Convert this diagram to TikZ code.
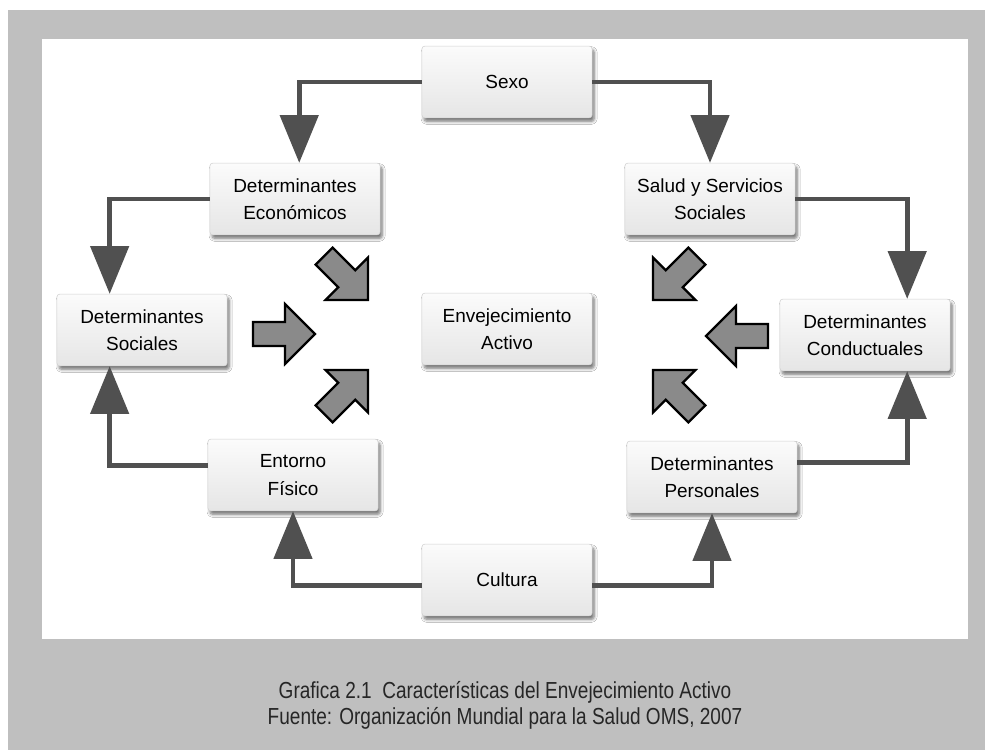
\documentclass[tikz,border=0pt]{standalone}
\usepackage{fontspec}
\setmainfont{Liberation Sans}
\newfontfamily\capfont[FakeStretch=0.82]{Liberation Sans}
\usetikzlibrary{arrows.meta,shadows.blur}
\definecolor{framegray}{HTML}{BFBFBF}
\definecolor{linkgray}{HTML}{505050}
\definecolor{arrgray}{HTML}{8A8A8A}
\tikzset{
  factor/.style={draw=gray!35, rounded corners=2pt, top color=gray!3, bottom color=gray!20,
    minimum width=121pt, minimum height=51pt, align=center, inner sep=2pt,
    font=\fontsize{13.5}{19.5}\selectfont,
    blur shadow={shadow xshift=1.5pt, shadow yshift=-2.5pt, shadow blur steps=6, shadow opacity=55}},
  link/.style={draw=linkgray, line width=3.5pt, -{Triangle[length=34pt,width=27pt]}},
  blockarr/.pic={
    \draw[fill=arrgray, line width=1.6pt, line join=miter]
      (0,0) -- (-30,30) -- (-30,12) -- (-62,12) -- (-62,-12) -- (-30,-12) -- (-30,-30) -- cycle;
  }
}
\begin{document}
\begin{tikzpicture}[x=0.025cm, y=-0.025cm]
  \useasboundingbox (0,0) rectangle (985,750);
  \fill[white] (0,0) rectangle (985,750);
  \fill[framegray] (8,10) rectangle (985,750);
  \fill[white] (42,39) rectangle (968,639);
  % factors
  \node[factor] (sexo) at (507,82) {Sexo};
  \node[factor] (economicos) at (295,199) {Determinantes\\Económicos};
  \node[factor] (salud) at (710,199) {Salud y Servicios\\Sociales};
  \node[factor] (sociales) at (142,330) {Determinantes\\Sociales};
  \node[factor] (activo) at (507,329) {Envejecimiento\\Activo};
  \node[factor] (conductuales) at (865,335) {Determinantes\\Conductuales};
  \node[factor] (entorno) at (293,475) {Entorno\\Físico};
  \node[factor] (personales) at (712,477) {Determinantes\\Personales};
  \node[factor] (cultura) at (507,580) {Cultura};
  \begin{scope}
    \draw[link] (sexo.west) -| ([xshift=3pt]economicos.north);
    \draw[link] (sexo.east) -| (salud.north);
    \draw[link] (economicos.west) -| ([xshift=-23pt]sociales.north);
    \draw[link] (salud.east) -| ([xshift=30pt]conductuales.north);
    \draw[link] ([yshift=7pt]entorno.west) -| ([xshift=-23pt]sociales.south);
    \draw[link] ([yshift=10pt]personales.east) -| ([xshift=30pt]conductuales.south);
    \draw[link] ([yshift=-4pt]cultura.west) -| (entorno.south);
    \draw[link] ([yshift=-4pt]cultura.east) -| (personales.south);
  \end{scope}
  % block arrows into the centre
  \pic[rotate=-45] at (368,300) {blockarr};
  \pic at (315,334) {blockarr};
  \pic[rotate=45] at (368,370) {blockarr};
  \pic[rotate=-135] at (653,300) {blockarr};
  \pic[rotate=180] at (706,336) {blockarr};
  \pic[rotate=135] at (653,370) {blockarr};
  % caption
  \node[font=\capfont\fontsize{16.5}{18.5}\selectfont, text=black!85, align=center] (caption) at (505,705)
    {Grafica 2.1\ \ Características del Envejecimiento Activo\\Fuente: Organización Mundial para la Salud OMS, 2007};
\end{tikzpicture}
\end{document}
